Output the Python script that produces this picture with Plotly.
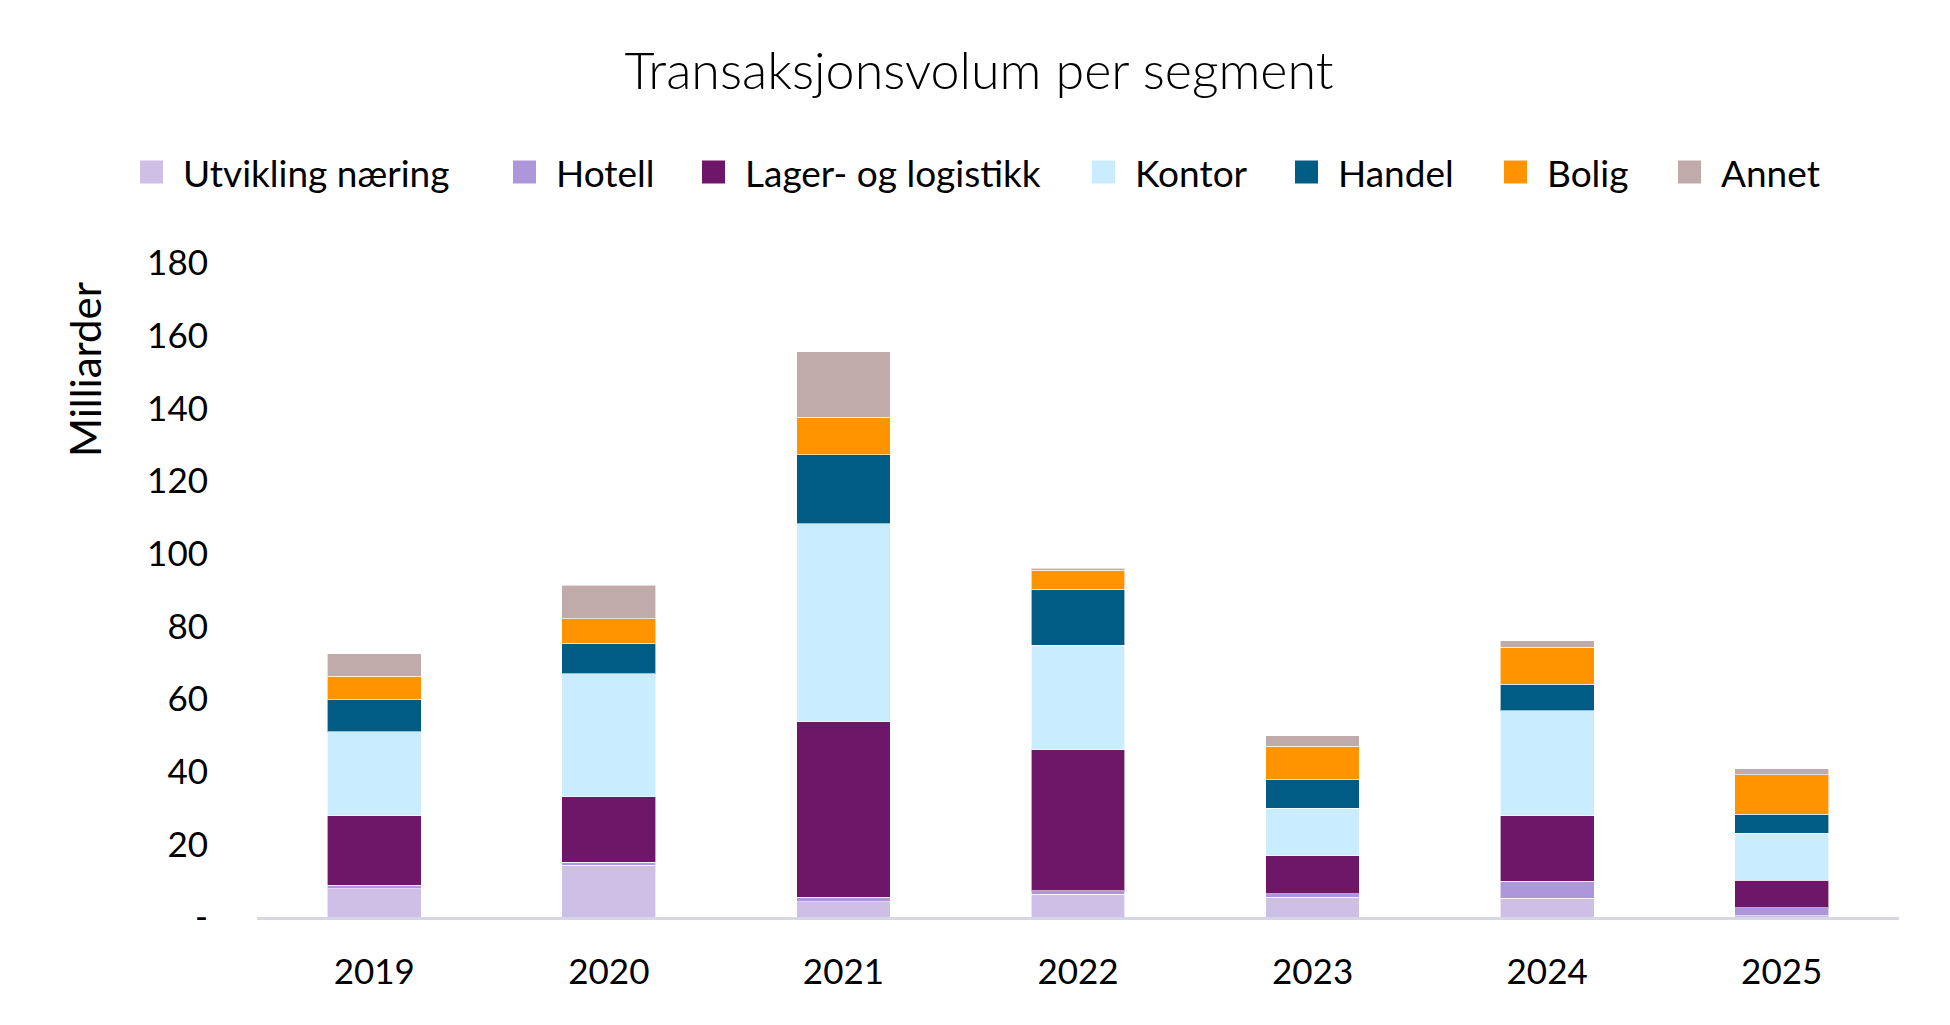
import plotly.graph_objects as go

years = ["2019", "2020", "2021", "2022", "2023", "2024", "2025"]

utvikling_naering = [7.8, 14.2, 4.2, 6.3, 5.5, 5.1, 0.4]
hotell = [1.0, 0.9, 1.2, 0.9, 0.9, 4.8, 2.2]
lager_logistikk = [19.1, 18.0, 48.4, 38.8, 10.4, 17.9, 7.5]
kontor = [23.1, 33.9, 54.5, 28.8, 13.1, 28.9, 12.9]
handel = [8.8, 8.3, 18.9, 15.4, 7.9, 7.3, 5.3]
bolig = [6.5, 6.8, 10.4, 5.2, 9.2, 10.3, 10.8]
annet = [6.1, 9.2, 18.0, 0.6, 2.9, 1.7, 1.7]

series_names = ["Utvikling næring", "Hotell", "Lager- og logistikk", "Kontor",
                "Handel", "Bolig", "Annet"]
series_values = [utvikling_naering, hotell, lager_logistikk, kontor, handel, bolig, annet]
series_colors = ["#CDBFE6", "#AE96DA", "#6E1768", "#C9EDFF", "#005C84", "#FF9400", "#C0ABAA"]

tick_vals = [0, 20, 40, 60, 80, 100, 120, 140, 160, 180]
tick_text = ["-", "20", "40", "60", "80", "100", "120", "140", "160", "180"]

FONT = "Lato"
W, H = 1950, 1025
OFF = 8  # default page body margin in the browser
# plot area in page pixels: x 257..1899, y 263..917
L, T = 257 - OFF, 263 - OFF
R, B = W - (1899 - OFF), H - (917 - OFF)
PW = W - L - R
PH = H - T - B

fig = go.Figure()
for name, vals, color in zip(series_names, series_values, series_colors):
    fig.add_trace(go.Bar(
        x=years, y=vals, name=name, showlegend=False,
        marker=dict(color=color, line=dict(color="rgba(255,255,255,0.6)", width=1)),
    ))

# custom legend (larger squares, Excel-like spacing); page pixel positions
legend_square_left_px = [140, 513, 702, 1092, 1295, 1504, 1678]
legend_y_px = 172 - OFF
sq = 23
shapes = []
annotations = []
for name, color, xl in zip(series_names, series_colors, legend_square_left_px):
    xl = xl - OFF
    x0 = (xl - L) / PW
    x1 = (xl + sq - L) / PW
    y0 = 1 - (legend_y_px + sq / 2 - T) / PH
    y1 = 1 - (legend_y_px - sq / 2 - T) / PH
    shapes.append(dict(type="rect", xref="paper", yref="paper", x0=x0, x1=x1, y0=y0, y1=y1,
                       fillcolor=color, line=dict(width=0)))
    annotations.append(dict(text=name, xref="paper", yref="paper",
                            x=(xl + 41 - L) / PW, y=1 - (legend_y_px - T) / PH,
                            xanchor="left", yanchor="middle", showarrow=False,
                            font=dict(family=FONT, size=37, color="#000000")))

# y-axis title positioned as in the reference
annotations.append(dict(text="Milliarder", xref="paper", yref="paper",
                        x=(85 - OFF - L) / PW, y=1 - (370 - OFF - T) / PH, textangle=-90,
                        xanchor="center", yanchor="middle", showarrow=False,
                        font=dict(family=FONT, size=42, color="#000000")))

fig.update_layout(
    barmode="stack",
    bargap=0.6,
    width=W, height=H,
    paper_bgcolor="white", plot_bgcolor="white",
    margin=dict(l=L, r=R, t=T, b=B),
    font=dict(family=FONT, color="#000000", size=35),
    title=dict(text="Transaksjonsvolum per segment", xref="container",
               x=(979 - OFF) / W, xanchor="center",
               y=1 - (71 - OFF) / H, yanchor="middle",
               font=dict(family=FONT, size=52, color="#000000", weight=300)),
    showlegend=False,
    shapes=shapes,
    annotations=annotations,
)

fig.update_xaxes(
    showline=True, linecolor="#D6D6E6", linewidth=3,
    showgrid=False, ticks="", tickfont=dict(family=FONT, size=35, color="#000000"),
    ticklabelstandoff=22,
)
fig.update_yaxes(
    range=[0, 180], tickvals=tick_vals, ticktext=tick_text,
    showgrid=False, showline=False, zeroline=False, ticks="",
    tickfont=dict(family=FONT, size=35, color="#000000"), ticklabelstandoff=48,
)

fig.write_html("out.html")
